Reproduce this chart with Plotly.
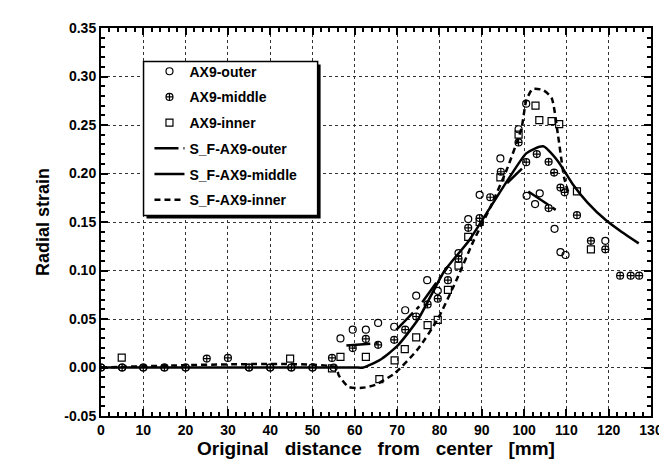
import plotly.graph_objects as go

# ---------------- data ----------------
outer_x = [0, 5, 10, 15, 20, 35, 40, 45, 50, 55, 56.6, 59.5, 62.6, 65.5, 69.3, 71.9, 74.5, 77.1, 79.6, 82.0, 84.5,
           86.8, 89.5, 94.4, 98.7, 100.5, 100.6, 102.6, 103.7, 107.2, 108.6, 109.8, 119.2]
outer_y = [0, 0, 0, 0, 0, 0, 0, 0, 0, 0, 0.030, 0.039, 0.039, 0.046, 0.042, 0.059, 0.074, 0.090, 0.079, 0.100, 0.118,
           0.153, 0.178, 0.2155, 0.2456, 0.272, 0.177, 0.1685, 0.1796, 0.143, 0.119, 0.116, 0.1306]

middle_x = [0, 5, 10, 15, 20, 25, 30, 35, 40, 45, 50, 54.6, 59.5, 62.6, 65.5, 69.3, 71.9, 74.5, 77.2, 79.6, 82.0,
            84.5, 86.8, 89.5, 92.0, 94.5, 98.7, 100.5, 103.0, 105.8, 105.8, 107.1, 108.6, 109.6, 112.5, 115.8, 119.2,
            122.7, 125.2, 127.2]
middle_y = [0, 0, 0, 0, 0, 0.0092, 0.0099, 0, 0, 0, 0, 0.0099, 0.020, 0.0295, 0.0234, 0.0285, 0.039, 0.0526, 0.065,
            0.071, 0.090, 0.112, 0.144, 0.154, 0.1755, 0.2018, 0.232, 0.2117, 0.220, 0.212, 0.1644, 0.201, 0.1855,
            0.1806, 0.157, 0.1306, 0.1218, 0.0947, 0.0947, 0.0947]

inner_x = [4.9, 44.7, 54.6, 56.6, 62.6, 65.8, 69.4, 71.8, 74.5, 77.2, 79.6, 82.0, 84.5, 86.8, 89.5, 94.4, 98.7,
           102.7, 103.6, 106.5, 108.3, 112.5, 115.8]
inner_y = [0.0102, 0.0092, -0.001, 0.011, 0.011, -0.012, 0.0074, 0.019, 0.031, 0.0437, 0.049, 0.080, 0.105,
           0.1346, 0.150, 0.196, 0.240, 0.270, 0.255, 0.254, 0.251, 0.1815, 0.1218]

# S_F fits
fit_outer_x = [58.0, 65.4, None, 69.8, 75.3, 82.0, None, 96.0, 99.5, None, 101.0, 108.0]
fit_outer_y = [0.0227, 0.0251, None, 0.0387, 0.0634, 0.104, None, 0.190, 0.205, None, 0.1815, 0.161]

fit_middle_x = [0, 60, 62, 66, 70, 75, 81.1, 87, 92, 96.7, 100.6, 104.5, 108, 111.5, 115, 119.3, 123, 127.1]
fit_middle_y = [0, 0, 0.0, 0.008, 0.022, 0.050, 0.099, 0.131, 0.165, 0.197, 0.221, 0.228, 0.2127, 0.189, 0.170,
                0.152, 0.140, 0.128]

fit_inner_x = [0, 55.5, 56.2, 58.5, 61.7, 64.8, 69.4, 74.9, 79.6, 84, 88, 92, 96, 99.4, 100.5, 102, 104.5, 106.5,
               108.0, 109.5, 110.5]
fit_inner_y = [0, 0, -0.008, -0.020, -0.021, -0.018, -0.006, 0.019, 0.050, 0.090, 0.130, 0.165, 0.205, 0.247,
               0.275, 0.287, 0.286, 0.278, 0.240, 0.195, 0.180]

x_ticks = list(range(0, 131, 10))
y_ticks = [-0.05, 0.0, 0.05, 0.10, 0.15, 0.20, 0.25, 0.30, 0.35]
y_tick_text = ["-0.05", "0.00", "0.05", "0.10", "0.15", "0.20", "0.25", "0.30", "0.35"]

# ---------------- figure ----------------
FONT = "Liberation Sans"
W, H = 667, 469
ML, MR, MT, MB = 93, 18, 15, 61
PW, PH = W - ML - MR, H - MT - MB


def px_x(p):
    return (p - ML) / PW


def px_y(p):
    return (H - MB - p) / PH


fig = go.Figure()

mk = dict(size=7, color="black", line=dict(color="black", width=1.2))
fig.add_trace(go.Scatter(x=outer_x, y=outer_y, mode="markers", name="AX9-outer", legendgroup="a",
                         marker=dict(symbol="circle-open", **mk)))
fig.add_trace(go.Scatter(x=middle_x, y=middle_y, mode="markers", name="AX9-middle", legendgroup="b",
                         marker=dict(symbol="circle-cross-open", **mk)))
fig.add_trace(go.Scatter(x=inner_x, y=inner_y, mode="markers", name="AX9-inner", legendgroup="c",
                         marker=dict(symbol="square-open", **mk)))
fig.add_trace(go.Scatter(x=fit_outer_x, y=fit_outer_y, mode="lines", name="S_F-AX9-outer", legendgroup="d",
                         line=dict(color="black", width=2.5, dash="24px,5px,4px,5px"), connectgaps=False))
fig.add_trace(go.Scatter(x=fit_middle_x, y=fit_middle_y, mode="lines", name="S_F-AX9-middle", legendgroup="e",
                         line=dict(color="black", width=2.5, shape="spline", smoothing=0.6)))
fig.add_trace(go.Scatter(x=fit_inner_x, y=fit_inner_y, mode="lines", name="S_F-AX9-inner", legendgroup="f",
                         line=dict(color="black", width=2.5, dash="6px,4px", shape="spline", smoothing=0.6)))

axis_common = dict(showline=True, linecolor="black", linewidth=2, mirror="allticks", ticks="inside",
                   ticklen=7, tickwidth=1.5, tickcolor="black", showgrid=True, gridcolor="#333333",
                   griddash="dot", gridwidth=0.8, zeroline=False,
                   tickfont=dict(family=FONT, size=14, color="black", weight="bold"))

fig.update_xaxes(range=[0, 130], tickvals=x_ticks, **axis_common,
                 minor=dict(ticks="inside", ticklen=4, tickcolor="black", dtick=2, showgrid=False),
                 title=dict(text="Original   distance   from   center   [mm]", standoff=3,
                            font=dict(family=FONT, size=19, color="black", weight="bold")))
fig.update_yaxes(range=[-0.05, 0.35], tickvals=y_ticks, ticktext=y_tick_text, **axis_common,
                 minor=dict(ticks="inside", ticklen=4, tickcolor="black", dtick=0.01, showgrid=False),
                 title=dict(text="Radial strain", standoff=10,
                            font=dict(family=FONT, size=18, color="black", weight="bold")))

# legend frame with drop shadow
fig.add_shape(type="rect", xref="paper", yref="paper", layer="above",
              x0=px_x(139), x1=px_x(315), y0=px_y(208), y1=px_y(52),
              fillcolor="black", line=dict(width=0))
fig.add_shape(type="rect", xref="paper", yref="paper", layer="above",
              x0=px_x(136), x1=px_x(312), y0=px_y(205), y1=px_y(49),
              fillcolor="white", line=dict(color="black", width=1.5))

fig.update_layout(
    width=W, height=H,
    margin=dict(l=ML, r=MR, t=MT, b=MB),
    plot_bgcolor="white", paper_bgcolor="white",
    showlegend=True,
    legend=dict(x=px_x(142), y=px_y(43), xanchor="left", yanchor="top", bgcolor="rgba(0,0,0,0)",
                borderwidth=0, tracegroupgap=4.5,
                font=dict(family=FONT, size=14, color="black", weight="bold")),
)

fig.write_html("out.html")
